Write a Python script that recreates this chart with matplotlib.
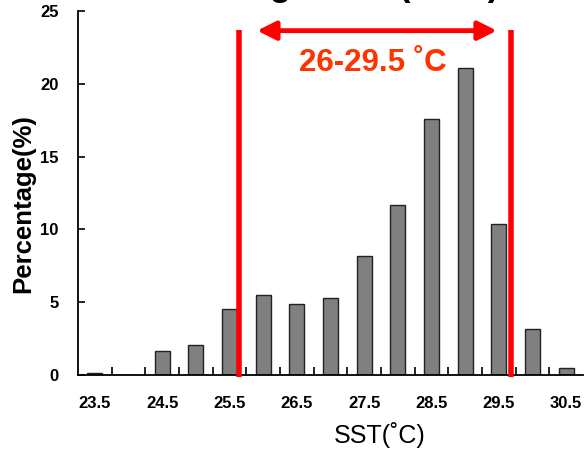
import numpy as np
import matplotlib
matplotlib.use("Agg")
import matplotlib.pyplot as plt

plt.rcParams['font.family'] = ['Liberation Sans', 'DejaVu Sans']

# SST bins (deg C) and share of records (%)
sst_bins = [23.5, 24.0, 24.5, 25.0, 25.5, 26.0, 26.5, 27.0,
            27.5, 28.0, 28.5, 29.0, 29.5, 30.0, 30.5]
percent = [0.15, 0.0, 1.67, 2.08, 4.55, 5.52, 4.88, 5.27,
           8.17, 11.65, 17.6, 21.1, 10.4, 3.18, 0.46]
tick_labels = ["23.5", "24.5", "25.5", "26.5", "27.5", "28.5", "29.5", "30.5"]

fig = plt.figure(figsize=(5.85, 4.51), dpi=100)
ax = fig.add_axes([78 / 585, 1 - 375 / 451, 505 / 585, 364 / 451])

x = np.arange(len(sst_bins))
ax.bar(x, percent, width=0.44, color="#808080", edgecolor="#222222", linewidth=1.0)

ax.set_xlim(-0.5, len(sst_bins) - 0.5)
ax.set_ylim(0, 25)

# labels every other bin, tick marks between bins
ax.set_xticks(x[::2])
ax.set_xticklabels(tick_labels, fontsize=12, fontweight="bold")
ax.set_xticks(np.arange(0.5, len(sst_bins) - 0.5, 1.0), minor=True)
ax.tick_params(axis="x", which="major", length=0, pad=15)
ax.tick_params(axis="x", which="minor", direction="in", length=6, width=1.2)

ax.set_yticks([0, 5, 10, 15, 20, 25])
ax.tick_params(axis="y", direction="in", length=5, width=1.2, pad=14)
for lab in ax.get_yticklabels():
    lab.set_fontsize(12)
    lab.set_fontweight("bold")

ax.spines["top"].set_visible(False)
ax.spines["right"].set_visible(False)
ax.spines["left"].set_linewidth(1.3)
ax.spines["bottom"].set_linewidth(1.3)

ax.set_ylabel("Percentage(%)", fontsize=18.5, fontweight="bold")
ax.yaxis.set_label_coords(-0.085, 0.47)
fig.text(380 / 585, 1 - 435 / 451, "SST(˚C)", fontsize=18,
         ha="center", va="center")

# highlighted range
for xv in (4.29, 12.36):
    ax.plot([xv, xv], [-0.15, 23.7], color="red", linewidth=4,
            solid_capstyle="butt", clip_on=False, zorder=5)
ax.annotate("", xy=(4.82, 23.65), xytext=(11.94, 23.65),
            arrowprops=dict(arrowstyle="<|-|>", color="red", lw=3.5,
                            mutation_scale=28, shrinkA=0, shrinkB=0))
ax.text(8.25, 21.45, "26-29.5 ˚C", color="#FF3300", fontsize=22.5,
        fontweight="bold", ha="center", va="center")

# title, mostly cut off by the top edge in the original
fig.text(164 / 585, 455 / 451, "Catch ground (2010)", fontsize=25,
         fontweight="bold", ha="left", va="baseline")

fig.savefig("out.png", dpi=100)
